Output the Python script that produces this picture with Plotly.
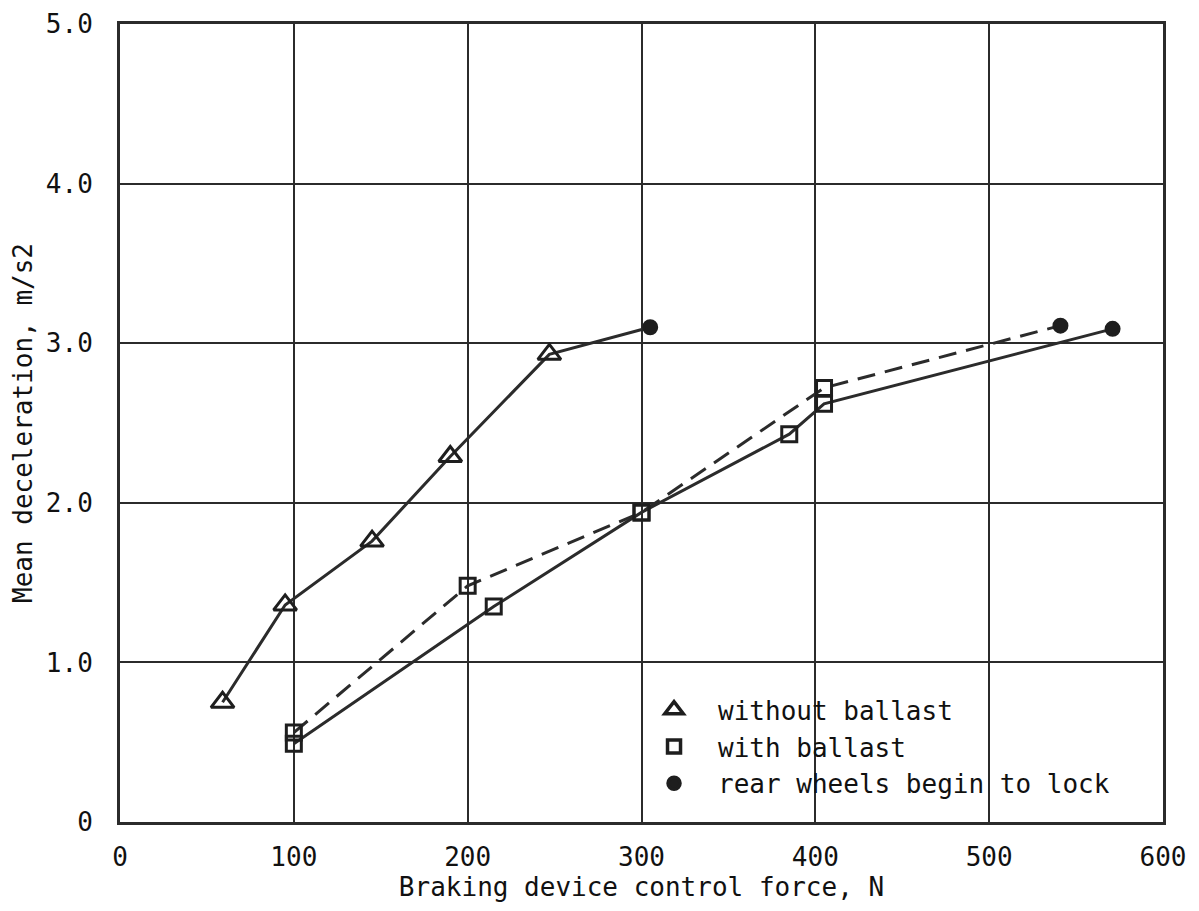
import plotly.graph_objects as go

# Data
wo_x = [59, 95, 145, 190, 247, 305]
wo_y = [0.75, 1.36, 1.76, 2.29, 2.93, 3.10]

wb_solid_x = [100, 215, 300, 385, 405, 571]
wb_solid_y = [0.49, 1.35, 1.94, 2.43, 2.62, 3.09]

wb_dash_x = [100, 200, 300, 405, 541]
wb_dash_y = [0.56, 1.48, 1.94, 2.72, 3.11]

x_ticks = [0, 100, 200, 300, 400, 500, 600]
x_ticktext = ["0", "100", "200", "300", "400", "500", "600"]
y_ticks = [0, 1, 2, 3, 4, 5]
y_ticktext = ["0", "1.0", "2.0", "3.0", "4.0", "5.0"]

legend_labels = ["without ballast", "with ballast", "rear wheels begin to lock"]

INK = "#2b2b2b"
MK = "#1e1e1e"
FONT = "DejaVu Sans Mono"
FS = 26

fig = go.Figure()

def marker_symbols(n, sym):
    return [sym] * (n - 1) + ["circle"]

# without ballast
fig.add_trace(go.Scatter(
    x=wo_x, y=wo_y, mode="lines+markers", showlegend=False,
    line=dict(color=INK, width=3),
    marker=dict(symbol=marker_symbols(len(wo_x), "triangle-up-open"),
                size=[20] * (len(wo_x) - 1) + [13],
                color=MK, opacity=1, line=dict(color=MK, width=3)),
))
# with ballast solid
fig.add_trace(go.Scatter(
    x=wb_solid_x, y=wb_solid_y, mode="lines+markers", showlegend=False,
    line=dict(color=INK, width=3),
    marker=dict(symbol=marker_symbols(len(wb_solid_x), "square-open"),
                size=[15] * (len(wb_solid_x) - 1) + [13],
                color=MK, opacity=1, line=dict(color=MK, width=3)),
))
# with ballast dashed
fig.add_trace(go.Scatter(
    x=wb_dash_x, y=wb_dash_y, mode="lines+markers", showlegend=False,
    line=dict(color=INK, width=3, dash="18px,10px"),
    marker=dict(symbol=marker_symbols(len(wb_dash_x), "square-open"),
                size=[15] * (len(wb_dash_x) - 1) + [13],
                color=MK, opacity=1, line=dict(color=MK, width=3)),
))

# legend-only entries
leg_syms = ["triangle-up-open", "square-open", "circle"]
leg_sizes = [16, 13, 12]
for lab, sym, sz in zip(legend_labels, leg_syms, leg_sizes):
    fig.add_trace(go.Scatter(
        x=[None], y=[None], mode="markers", name=lab,
        marker=dict(symbol=sym, size=sz, color=MK, opacity=1,
                    line=dict(color=MK, width=3.5)),
    ))

fig.update_layout(
    width=1191, height=903,
    margin=dict(l=112, r=36, t=16, b=89),
    paper_bgcolor="white", plot_bgcolor="white",
    font=dict(family=FONT, size=FS, color="#111111"),
    showlegend=True,
    legend=dict(x=0.489, y=0.17, xanchor="left", yanchor="top",
                bgcolor="rgba(0,0,0,0)", font=dict(size=FS, family=FONT),
                itemwidth=78, itemsizing="trace", tracegroupgap=0),
    xaxis=dict(range=[0, 600], tickvals=x_ticks, ticktext=x_ticktext,
               showgrid=True, gridcolor=INK, gridwidth=1.5,
               showline=True, linecolor=INK, linewidth=3, mirror=True,
               zeroline=False, ticks="", automargin=False,
               ticklabelstandoff=10, ticklabeloverflow="allow",
               title=dict(text="Braking device control force, N", standoff=0,
                          font=dict(size=FS, family=FONT))),
    yaxis=dict(range=[0, 5], tickvals=y_ticks, ticktext=y_ticktext,
               showgrid=True, gridcolor=INK, gridwidth=1.5,
               showline=True, linecolor=INK, linewidth=3, mirror=True,
               zeroline=False, ticks="", automargin=False,
               ticklabelstandoff=19, ticklabeloverflow="allow",
               title=dict(text="Mean deceleration, m/s2", standoff=12,
                          font=dict(size=FS, family=FONT))),
)

fig.write_html("out.html")
